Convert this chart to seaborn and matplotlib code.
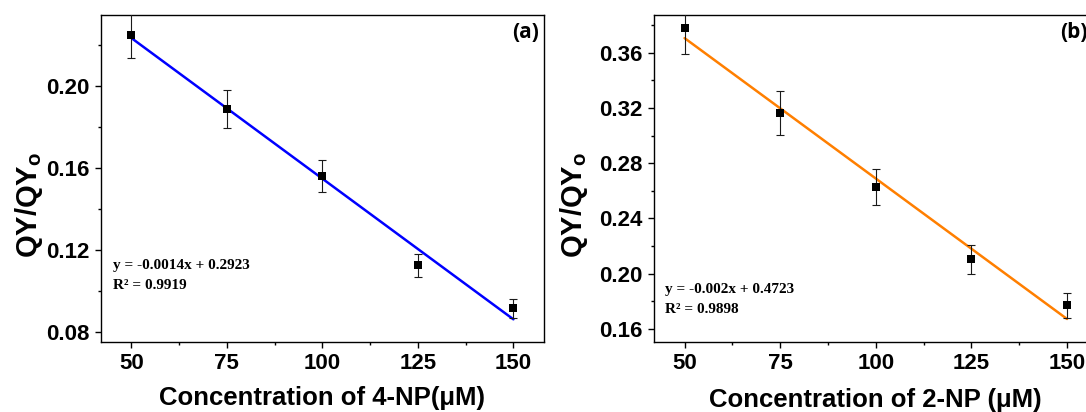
import numpy as np
import pandas as pd
import matplotlib
matplotlib.use("Agg")
import matplotlib.pyplot as plt
from matplotlib import font_manager
from matplotlib.ticker import MultipleLocator, FormatStrFormatter
import seaborn as sns

# Quenching data: relative quantum yield vs. nitrophenol concentration
conc = [50, 75, 100, 125, 150]

qy_4np = [0.225, 0.189, 0.156, 0.1125, 0.0917]
err_4np = [0.0113, 0.0093, 0.0078, 0.0055, 0.0046]

qy_2np = [0.3781, 0.3165, 0.2624, 0.2102, 0.1769]
err_2np = [0.0190, 0.0160, 0.0130, 0.0105, 0.0089]

eq_4np = ["y = -0.0014x + 0.2923", "R² = 0.9919"]
eq_2np = ["y = -0.002x + 0.4723", "R² = 0.9898"]


def pick_font(*names):
    for n in names:
        try:
            font_manager.findfont(font_manager.FontProperties(family=n),
                                  fallback_to_default=False)
            return n
        except ValueError:
            continue
    return "DejaVu Sans"


SANS = pick_font("Liberation Sans", "Arial")
SERIF = pick_font("Liberation Serif", "DejaVu Serif")
TAG = pick_font("Open Sans", "Lato", "Liberation Sans")

sns.set_style("ticks")
plt.rcParams["font.family"] = [SANS, "DejaVu Sans"]
plt.rcParams["text.color"] = "black"
plt.rcParams["axes.labelcolor"] = "black"
plt.rcParams["xtick.color"] = "black"
plt.rcParams["ytick.color"] = "black"
plt.rcParams["mathtext.fontset"] = "custom"
plt.rcParams["mathtext.rm"] = "Liberation Sans:bold"
plt.rcParams["mathtext.it"] = "Liberation Sans:bold"
plt.rcParams["mathtext.bf"] = "Liberation Sans:bold"

fig = plt.figure(figsize=(10.86, 4.12), dpi=100)
ax_a = fig.add_axes([0.0927, 0.1706, 0.4082, 0.7923])
ax_b = fig.add_axes([0.6022, 0.1706, 0.4085, 0.7923])


def draw_panel(ax, y, err, color, xlab, ylim, eq, eq_pos, tag, tag_x,
               xlab_y, ylab_x):
    df = pd.DataFrame({"c": conc, "qy": y})
    sns.regplot(data=df, x="c", y="qy", ax=ax, ci=None, scatter=False,
                truncate=True, line_kws=dict(color=color, lw=1.8, zorder=2))
    ax.errorbar(conc, y, yerr=err, fmt="none", ecolor="#1a1a1a",
                elinewidth=0.8, capsize=3.0, capthick=0.8, zorder=3)
    sns.scatterplot(data=df, x="c", y="qy", ax=ax, marker="s", s=36,
                    color="black", edgecolor="black", linewidth=0, zorder=4)

    ax.set_xlim(42, 158)
    ax.set_ylim(*ylim)
    ax.set_xticks(conc)
    ax.xaxis.set_minor_locator(MultipleLocator(12.5))
    ax.yaxis.set_major_locator(MultipleLocator(0.04))
    ax.yaxis.set_minor_locator(MultipleLocator(0.02))
    ax.yaxis.set_major_formatter(FormatStrFormatter("%.2f"))

    ax.tick_params(axis="both", which="major", direction="out", length=4.5,
                   width=1.0, labelsize=16, pad=3.5, colors="black")
    ax.tick_params(axis="both", which="minor", direction="out", length=2.5,
                   width=1.0, colors="black")
    for lab in ax.get_xticklabels() + ax.get_yticklabels():
        lab.set_fontweight("bold")
    for sp in ax.spines.values():
        sp.set_visible(True)
        sp.set_linewidth(1.0)
        sp.set_color("black")

    ax.set_xlabel(xlab, fontsize=18.5, fontweight="bold", color="black")
    ax.xaxis.set_label_coords(0.5, xlab_y)
    ax.set_ylabel(r"QY/QY$_\mathregular{o}$", fontsize=21,
                  fontweight="bold", color="black")
    ax.yaxis.set_label_coords(ylab_x, 0.42)

    ax.text(eq_pos[0], eq_pos[1], eq[0], transform=ax.transAxes,
            family=SERIF, fontweight="bold", fontsize=11, color="black",
            va="baseline", ha="left")
    ax.text(eq_pos[0], eq_pos[2], eq[1], transform=ax.transAxes,
            family=SERIF, fontweight="bold", fontsize=11, color="black",
            va="baseline", ha="left")
    ax.text(tag_x, 0.978, tag, transform=ax.transAxes,
            family=TAG, fontweight="bold", fontsize=15, color="black",
            va="top", ha="right")
    ax.grid(False)


draw_panel(ax_a, qy_4np, err_4np, "#0000FF",
           "Concentration of 4-NP(μM)", (0.0753, 0.2345),
           eq_4np, (0.027, 0.2227, 0.1615), "(a)", 0.988, -0.137, -0.125)
draw_panel(ax_b, qy_2np, err_2np, "#FF7F00",
           "Concentration of 2-NP (μM)", (0.1506, 0.3871),
           eq_2np, (0.024, 0.148, 0.087), "(b)", 0.978, -0.142, -0.145)

fig.savefig("out.png", dpi=100)
